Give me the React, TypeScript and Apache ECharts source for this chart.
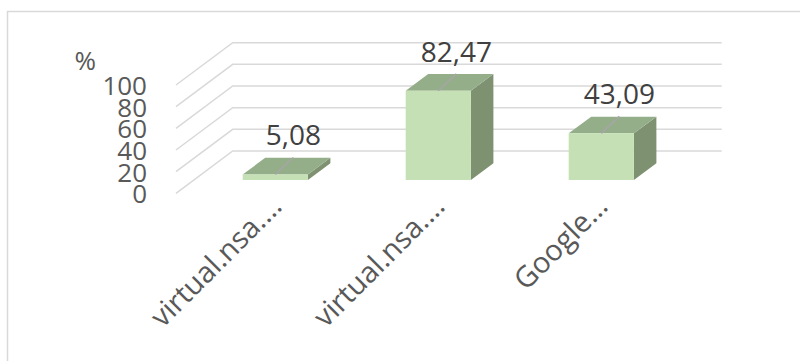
import React, { useEffect, useRef } from "react";
import * as echarts from "echarts";

const categories = ["virtual.nsa.…", "virtual.nsa.…", "Google…"];
const values = [5.08, 82.47, 43.09];
const yTicks = [0, 20, 40, 60, 80, 100];

const FONT = "'Open Sans', 'Noto Sans', sans-serif";
// depth vector of the floor (px)
const DX = 56.7;
const DY = 42.3;
// bar depth vector
const BDX = 22.5;
const BDY = 16.7;

export default function App() {
  const ref = useRef<HTMLDivElement>(null);
  useEffect(() => {
    const chart = echarts.init(ref.current!, null, { renderer: "svg" });
    const option: any = {
      animation: false,
      backgroundColor: "#ffffff",
      graphic: [
        {
          type: "rect",
          shape: { x: 7.5, y: 11.5, width: 1000, height: 1000 },
          style: { fill: "none", stroke: "#d9d9d9", lineWidth: 1.5 },
          silent: true,
          z: -10,
        },
      ],
      grid: [
        { left: 176, top: 85, width: 489, height: 108.3 },
        { left: 193.8, top: 71.7, width: 489, height: 108.3 },
      ],
      xAxis: [
        { gridIndex: 0, type: "value", min: 0, max: 3, show: false },
        {
          gridIndex: 1,
          type: "category",
          data: categories,
          axisLine: { show: false },
          axisTick: { show: false },
          axisLabel: {
            rotate: 45,
            margin: 20,
            fontSize: 29,
            color: "#595959",
            fontFamily: FONT,
            interval: 0,
          },
        },
      ],
      yAxis: [
        {
          gridIndex: 0,
          type: "value",
          min: 0,
          max: 100,
          interval: 20,
          name: "%",
          nameLocation: "end",
          nameGap: 12,
          nameTextStyle: {
            fontSize: 26,
            color: "#595959",
            fontFamily: FONT,
            align: "right",
            padding: [0, 80, 0, 0],
          },
          axisLine: { show: false },
          axisTick: { show: false },
          splitLine: { show: false },
          axisLabel: { show: false },
        },
        { gridIndex: 1, type: "value", min: 0, max: 100, show: false },
      ],
      series: [
        {
          type: "custom",
          xAxisIndex: 0,
          yAxisIndex: 0,
          silent: true,
          data: yTicks.map((t) => [0, t]),
          renderItem: (params: any, api: any) => {
            const v = api.value(1);
            const p0 = api.coord([0, v]);
            const pe = api.coord([3, v]);
            return {
              type: "group",
              children: [
                {
                  type: "polyline",
                  shape: {
                    points: [
                      [p0[0], p0[1]],
                      [p0[0] + DX, p0[1] - DY],
                      [pe[0] + DX, pe[1] - DY],
                    ],
                  },
                  style: { fill: "none", stroke: "#d9d9d9", lineWidth: 1.5 },
                },
                {
                  type: "text",
                  x: p0[0] - 29,
                  y: p0[1],
                  style: {
                    text: String(v),
                    fontSize: 26,
                    lineHeight: 20,
                    fontFamily: FONT,
                    fill: "#595959",
                    align: "right",
                    verticalAlign: "middle",
                  },
                },
              ],
            };
          },
          z: 1,
        },
        {
          type: "custom",
          xAxisIndex: 1,
          yAxisIndex: 1,
          data: values.map((v, i) => [i, v]),
          renderItem: (params: any, api: any) => {
            const i = api.value(0);
            const v = api.value(1);
            const band = api.size([1, 0])[0];
            const bw = band * 0.4;
            const top = api.coord([i, v]);
            const bot = api.coord([i, 0]);
            const cx = top[0];
            const x0 = cx - bw / 2;
            const x1 = cx + bw / 2;
            const yt = top[1];
            const yb = bot[1];
            const label = v.toFixed(2).replace(".", ",");
            return {
              type: "group",
              children: [
                {
                  type: "polygon",
                  shape: {
                    points: [
                      [x1, yb],
                      [x1 + BDX, yb - BDY],
                      [x1 + BDX, yt - BDY],
                      [x1, yt],
                    ],
                  },
                  style: { fill: "#7e9171" },
                },
                {
                  type: "polygon",
                  shape: {
                    points: [
                      [x0, yt],
                      [x0 + BDX, yt - BDY],
                      [x1 + BDX, yt - BDY],
                      [x1, yt],
                    ],
                  },
                  style: { fill: "#95ae8a" },
                },
                {
                  type: "rect",
                  shape: { x: x0, y: yt, width: bw, height: yb - yt },
                  style: { fill: "#c5e0b4" },
                },
                {
                  type: "line",
                  shape: { x1: cx, y1: yt, x2: cx + 18, y2: yt - 17 },
                  style: { stroke: "#a6a6a6", lineWidth: 1.5 },
                },
                {
                  type: "text",
                  x: cx + 18,
                  y: yt - 40,
                  style: {
                    text: label,
                    fontSize: 28,
                    fontFamily: FONT,
                    fill: "#404040",
                    align: "center",
                    verticalAlign: "middle",
                  },
                },
              ],
            };
          },
          z: 2,
        },
      ],
    };
    chart.setOption(option);
    return () => chart.dispose();
  }, []);
  return (
    <div
      ref={ref}
      style={{ position: "fixed", left: 0, top: 0, width: 800, height: 361 }}
    />
  );
}
